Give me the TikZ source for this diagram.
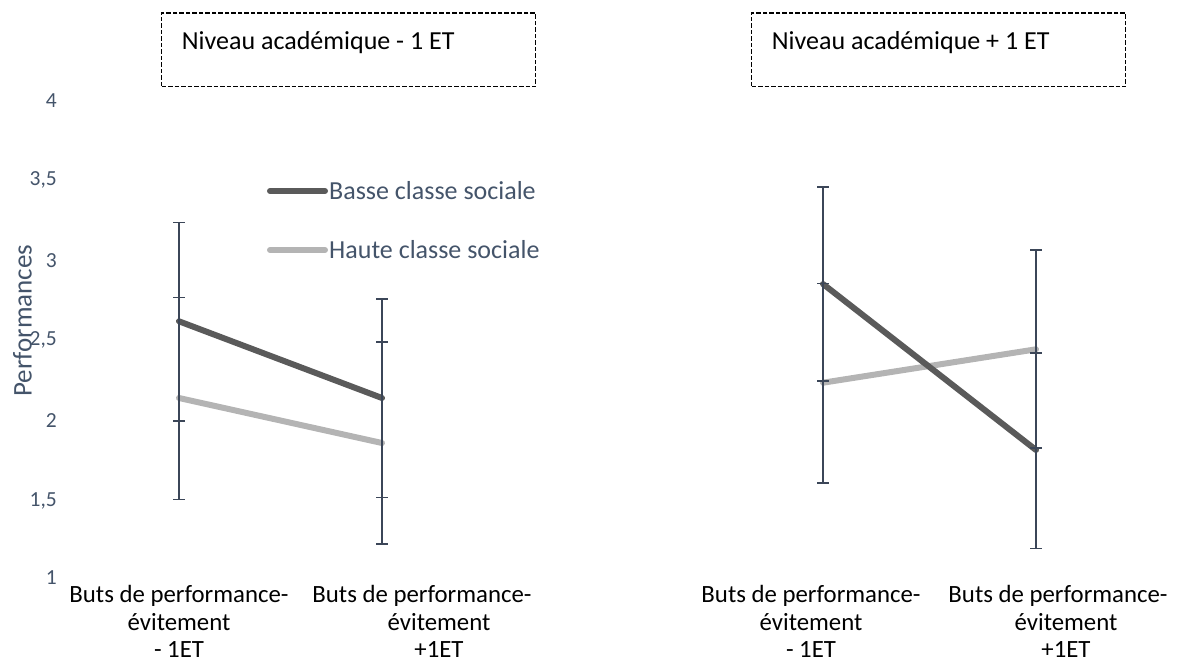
\documentclass[tikz,border=0pt]{standalone}
\usepackage{fontspec}
\setmainfont{Carlito}
\definecolor{slate}{HTML}{44546A}
\definecolor{barcol}{HTML}{3B4658}
\definecolor{darkser}{HTML}{5A5A5A}
\definecolor{lightser}{HTML}{B4B4B4}
\begin{document}
\begin{tikzpicture}[x=1pt,y=-1pt,
  ticklab/.style={anchor=east, text=slate, font=\fontsize{21.5}{24}\selectfont, inner sep=0pt},
  catlab/.style={align=center, font=\fontsize{24.8}{27.5}\selectfont, inner sep=0pt},
  framebox/.style={draw=black, line width=1.3pt, dash pattern=on 4.5pt off 2pt, minimum width=374pt, minimum height=73.7pt, anchor=north west, inner sep=0pt},
  boxtext/.style={anchor=base west, font=\fontsize{26}{30}\selectfont, inner sep=0pt},
  seriesdark/.style={draw=darkser, line width=6pt, line cap=round},
  serieslight/.style={draw=lightser, line width=6pt, line cap=round},
  errbar/.style={draw=barcol, line width=1.6pt},
  legtext/.style={anchor=west, text=slate, font=\fontsize{26}{30}\selectfont, inner sep=0pt}
]
\useasboundingbox (0,0) rectangle (1180,664);

% title boxes
\node[framebox] (box1) at (161,12.3) {};
\node[boxtext] (box1txt) at (181.7,49) {Niveau académique - 1 ET};
\node[framebox] (box2) at (751,12.3) {};
\node[boxtext] (box2txt) at (771.7,49) {Niveau académique + 1 ET};

% y axis
\node[ticklab] (t4) at (57,100.7) {4};
\node[ticklab] (t35) at (57,180) {3,5};
\node[ticklab] (t3) at (57,261) {3};
\node[ticklab] (t25) at (57,340) {2,5};
\node[ticklab] (t2) at (57,420.7) {2};
\node[ticklab] (t15) at (57,500.7) {1,5};
\node[ticklab] (t1) at (57,578) {1};
\node[rotate=90, anchor=base, text=slate, font=\fontsize{27}{30}\selectfont, inner sep=0pt] (ylab) at (31.7,320.7) {Performances};

% legend
\coordinate (lgDa) at (270,191);
\coordinate (lgDb) at (325,191);
\coordinate (lgLa) at (270,250);
\coordinate (lgLb) at (325,250);
\draw[seriesdark] (lgDa) -- (lgDb);
\draw[serieslight] (lgLa) -- (lgLb);
\node[legtext] (lgDt) at (329,191) {Basse classe sociale};
\node[legtext] (lgLt) at (329,250) {Haute classe sociale};

% left panel points
\coordinate (LD1) at (179,321.3);
\coordinate (LD2) at (382,398);
\coordinate (LL1) at (179,398);
\coordinate (LL2) at (382,443);
% left panel error bar ends
\coordinate (La1) at (179,222.3);
\coordinate (La2) at (179,297.3);
\coordinate (La3) at (179,420.7);
\coordinate (La4) at (179,499.3);
\coordinate (Lb1) at (382,298.7);
\coordinate (Lb2) at (382,342);
\coordinate (Lb3) at (382,497.3);
\coordinate (Lb4) at (382,544);

% right panel points
\coordinate (RD1) at (823,284);
\coordinate (RD2) at (1036,450);
\coordinate (RL1) at (823,382.7);
\coordinate (RL2) at (1036,349.3);
% right panel error bar ends
\coordinate (Ra1) at (823,187);
\coordinate (Ra2) at (823,283.3);
\coordinate (Ra3) at (823,381);
\coordinate (Ra4) at (823,482.7);
\coordinate (Rb1) at (1036,250);
\coordinate (Rb2) at (1036,352.7);
\coordinate (Rb3) at (1036,448);
\coordinate (Rb4) at (1036,548.3);

% series lines
\draw[serieslight] (LL1) -- (LL2);
\draw[seriesdark] (LD1) -- (LD2);
\draw[serieslight] (RL1) -- (RL2);
\draw[seriesdark] (RD1) -- (RD2);

% error bars
\draw[errbar] (La1) -- (La4);
\draw[errbar] (Lb1) -- (Lb4);
\draw[errbar] (Ra1) -- (Ra4);
\draw[errbar] (Rb1) -- (Rb4);
\foreach \c in {La1,La2,La3,La4,Lb1,Lb2,Lb3,Lb4,Ra1,Ra2,Ra3,Ra4,Rb1,Rb2,Rb3,Rb4}
  \draw[errbar] ([xshift=-6pt]\c) -- ([xshift=6pt]\c);

% category labels
\node[catlab] (cL1) at (179,621.5) {Buts de performance-\\évitement\\- 1ET};
\node[catlab] (cL2) at (439,621.5) {Buts de performance-\rule{34pt}{0pt}\\évitement\\+1ET};
\node[catlab] (cR1) at (811,621.5) {Buts de performance-\\évitement\\- 1ET};
\node[catlab] (cR2) at (1066,621.5) {Buts de performance-\rule{16pt}{0pt}\\évitement\\+1ET};
\end{tikzpicture}
\end{document}
